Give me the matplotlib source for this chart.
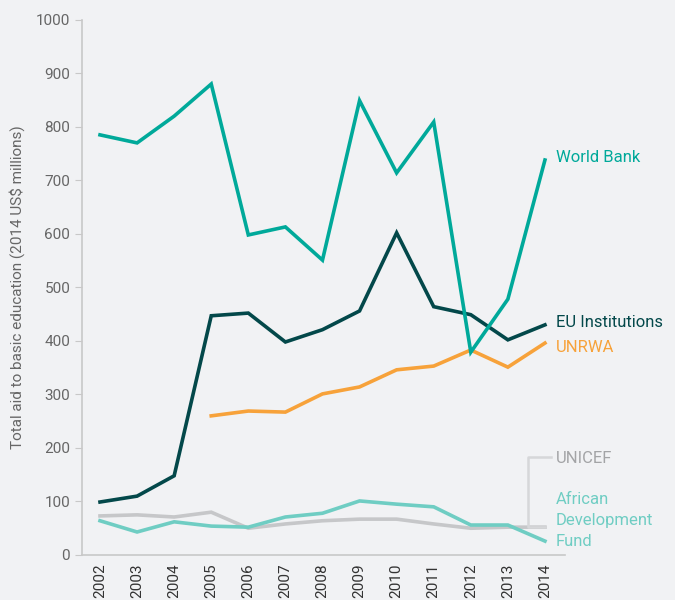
import matplotlib
matplotlib.use("Agg")
import matplotlib.pyplot as plt

plt.rcParams['font.family'] = ['Roboto', 'DejaVu Sans']

years = list(range(2002, 2015))
world_bank = [785, 770, 820, 880, 598, 613, 551, 849, 714, 809, 379, 478, 738]
eu_inst = [99, 110, 148, 447, 452, 398, 421, 456, 602, 464, 449, 402, 430]
unrwa_years = list(range(2005, 2015))
unrwa = [260, 269, 267, 301, 314, 346, 353, 383, 351, 396]
unicef = [73, 75, 71, 80, 50, 58, 64, 67, 67, 58, 50, 52, 52]
afdb = [64, 43, 62, 54, 52, 71, 78, 101, 95, 90, 56, 56, 26]

bg = '#f1f2f4'
c_wb = '#00a99a'
c_eu = '#03484a'
c_un = '#f7a23a'
c_ic = '#c6c7c9'
c_af = '#6fcdc3'

fig = plt.figure(figsize=(6.75, 6), dpi=100, facecolor=bg)
ax = fig.add_axes([0.1215, 0.075, 0.7155, 0.892], facecolor=bg)

lw = 2.6
ax.plot(years, unicef, color=c_ic, lw=lw, solid_joinstyle='miter')
ax.plot(years, afdb, color=c_af, lw=lw, solid_joinstyle='miter')
ax.plot(unrwa_years, unrwa, color=c_un, lw=lw, solid_joinstyle='miter')
ax.plot(years, eu_inst, color=c_eu, lw=lw, solid_joinstyle='miter')
ax.plot(years, world_bank, color=c_wb, lw=lw, solid_joinstyle='miter')

ax.set_xlim(2001.515, 2014.54)
ax.set_ylim(0, 1000)
ax.set_xticks(years)
ax.set_xticklabels([str(y) for y in years], rotation=90, color='#333333', fontsize=11)
ax.set_yticks(range(0, 1001, 100))
ax.tick_params(axis='y', colors='#c8c8c8', labelcolor='#666666', labelsize=11, length=5)
ax.tick_params(axis='x', length=0, pad=6)
for s in ['top', 'right']:
    ax.spines[s].set_visible(False)
ax.spines['left'].set_color('#c8c8c8')
ax.spines['bottom'].set_color('#c8c8c8')
ax.spines['left'].set_linewidth(1.2)
ax.spines['bottom'].set_linewidth(1.2)
ax.set_ylabel('Total aid to basic education (2014 US$ millions)', color='#666666', fontsize=11, labelpad=8)

# series labels
lx = 2014.3
ax.text(lx, 742, 'World Bank', color=c_wb, fontsize=12, va='center', clip_on=False)
ax.text(lx, 435, 'EU Institutions', color=c_eu, fontsize=12, va='center', clip_on=False)
ax.text(lx, 387, 'UNRWA', color=c_un, fontsize=12, va='center', clip_on=False)
ax.text(lx, 181, 'UNICEF', color='#a3a4a6', fontsize=12, va='center', clip_on=False)
ax.text(lx, 65, 'African\nDevelopment\nFund', color=c_af, fontsize=12, va='center',
        linespacing=1.5, clip_on=False)
ax.plot([2014, 2013.54, 2013.54, 2014.15], [unicef[-1], unicef[-1], 183, 183],
        color='#d6d7d9', lw=1.8, clip_on=False)

fig.savefig('out.png', dpi=100, facecolor=bg)
